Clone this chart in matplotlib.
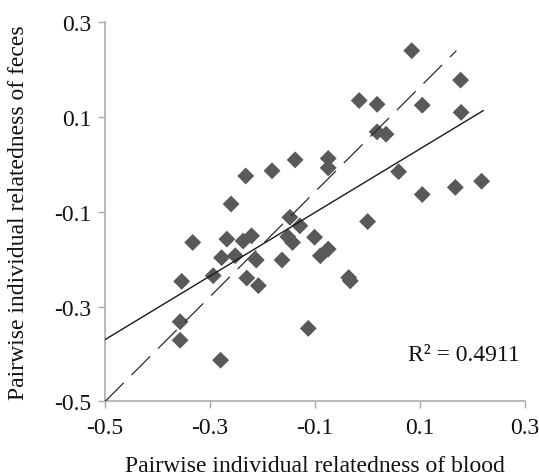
import numpy as np
import matplotlib
matplotlib.use("Agg")
import matplotlib.pyplot as plt

# Data
blood = [0.084, 0.177, -0.016, 0.018, 0.104, 0.178, 0.018, 0.035, -0.075, -0.075,
         0.059, 0.104, 0.167, 0.217, -0.138, -0.182, -0.232, -0.260, -0.148, -0.129,
         -0.333, -0.268, -0.237, -0.221, -0.152, -0.143, -0.101, -0.075, -0.090, -0.278,
         -0.252, -0.212, -0.163, -0.354, -0.294, -0.230, -0.208, -0.036, -0.033, 0.000,
         -0.357, -0.357, -0.280, -0.113]
feces = [0.239, 0.177, 0.134, 0.126, 0.124, 0.109, 0.068, 0.063, 0.012, -0.008,
         -0.016, -0.064, -0.049, -0.036, 0.009, -0.014, -0.025, -0.084, -0.112, -0.130,
         -0.165, -0.158, -0.162, -0.151, -0.153, -0.165, -0.154, -0.179, -0.193, -0.197,
         -0.193, -0.202, -0.202, -0.247, -0.235, -0.240, -0.256, -0.239, -0.246, -0.121,
         -0.332, -0.371, -0.413, -0.346]

trend_x = [-0.5, 0.22]
dash_x = [-0.5, 0.169]
dash_y = [-0.5, 0.239]
ticks = [-0.5, -0.3, -0.1, 0.1, 0.3]
tick_labels = ["-0.5", "-0.3", "-0.1", "0.1", "0.3"]
r2_text = "R² = 0.4911"
xlabel = "Pairwise individual relatedness of blood"
ylabel = "Pairwise individual relatedness of feces"

plt.rcParams['font.family'] = ['Liberation Serif', 'DejaVu Serif']

fig = plt.figure(figsize=(5.39, 4.77), dpi=100)
ax = fig.add_axes([0.1948, 0.1562, 0.9744 - 0.1948, 0.9524 - 0.1562])

ax.scatter(blood, feces, marker='D', s=8.6**2, color='#595959', edgecolors='none', zorder=3)

coef = np.polyfit(blood, feces, 1)
tx = np.array(trend_x)
ax.plot(tx, np.polyval(coef, tx), color='#1a1a1a', lw=1.0, zorder=4)

lw_d = 0.9
ax.plot(dash_x, dash_y, color='#2b2b2b', lw=lw_d, dashes=(19 / lw_d, 8 / lw_d), zorder=4)

ax.text(0.29, -0.40, r2_text, ha='right', va='center', fontsize=17, color='#111111')

ax.set_xlim(-0.5, 0.3)
ax.set_ylim(-0.5, 0.3)
ax.set_xticks(ticks)
ax.set_xticklabels(tick_labels)
ax.set_yticks(ticks)
ax.set_yticklabels(tick_labels)
ax.tick_params(direction='out', length=5, width=1.0, color='#a6a6a6', labelsize=17,
               labelcolor='#111111')
ax.tick_params(axis='x', pad=6)
ax.tick_params(axis='y', pad=5)
for s in ['top', 'right']:
    ax.spines[s].set_visible(False)
for s in ['left', 'bottom']:
    ax.spines[s].set_color('#a6a6a6')
    ax.spines[s].set_linewidth(1.1)

ax.set_xlabel(xlabel, fontsize=17, color='#111111')
ax.set_ylabel(ylabel, fontsize=17, color='#111111')
ax.xaxis.label.set_va('center')
ax.yaxis.label.set_va('center')
ax.xaxis.set_label_coords(0.5, (1 - 467 / 477 - 0.1562) / 0.7962)
ax.yaxis.set_label_coords((18 / 539 - 0.1948) / 0.7796, 0.5)

fig.savefig('out.png', dpi=100)
